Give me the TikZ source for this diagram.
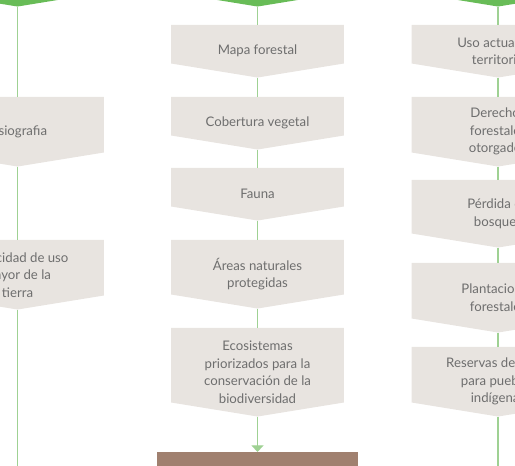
\documentclass[tikz,border=0pt]{standalone}
\usepackage{fontspec}
\setmainfont{Lato}
\usepackage{tikz}
\usetikzlibrary{positioning, arrows.meta, backgrounds}

\definecolor{boxgray}{HTML}{E8E4E0}
\definecolor{textgray}{HTML}{6E6E6E}
\definecolor{linegreen}{HTML}{9FD193}
\definecolor{topgreen}{HTML}{68BC57}
\definecolor{resbrown}{HTML}{A0806F}

\begin{document}
\begin{tikzpicture}[
    x=0.75pt, y=-0.75pt,
    >=stealth,
    item/.style={
        rectangle,
        minimum width=129pt,
        minimum height=#1,
        align=center,
        font=\fontsize{9.9}{13.1}\selectfont,
        text=textgray,
        inner sep=0pt,
        anchor=north
    },
    item/.default=39pt,
    link/.style={
        draw=linegreen,
        line width=1pt
    },
    arr/.style={
        link,
        -{Triangle[length=5pt,width=9pt]}
    }
]
\useasboundingbox (0,0) rectangle (515,466);
\clip (0,0) rectangle (515,466);

% headers (cut at the top)
\node[item=40.5pt] (hleft) at (17.5, -48) {};
\node[item=40.5pt] (hmid) at (257.5, -48) {};
\node[item=40.5pt] (hright) at (498, -48) {};

% left column
\node[item=51.75pt] (fisio) at (17.5, 97) {Fisiografia};
\node[item=51.75pt] (capac) at (17.5, 240) {Capacidad de uso\\mayor de la\\tierra};
\coordinate (lend) at (17.5, 480);

% middle column
\node[item] (mapa) at (257.5, 25) {Mapa forestal};
\node[item] (cober) at (257.5, 97) {Cobertura vegetal};
\node[item] (fauna) at (257.5, 168) {Fauna};
\node[item=51pt] (areas) at (257.5, 240) {Áreas naturales\\protegidas};
\node[item=66pt] (ecos) at (257.5, 328) {Ecosistemas\\priorizados para la\\conservación de la\\biodiversidad};
\node[rectangle, fill=resbrown, minimum width=150.75pt, minimum height=45pt, anchor=north] (result) at (257.5, 452) {};

% right column
\node[item] (uso) at (498, 25) {Uso actual del\\territorio};
\node[item=51.75pt] (derechos) at (498, 97) {Derechos\\forestales\\otorgados};
\node[item=50.25pt] (perdida) at (498, 180) {Pérdida de\\bosques};
\node[item=51.75pt] (plant) at (498, 263) {Plantaciones\\forestales};
\node[item=51.75pt] (reservas) at (498, 347) {Reservas de tierra\\para pueblos\\indígenas};
\coordinate (rend) at (498, 480);

% arrow-shaped fills behind the texts
\begin{scope}[on background layer]
\foreach \n in {fisio, capac, mapa, cober, fauna, areas, ecos, uso, derechos, perdida, plant, reservas}
    \fill[boxgray] (\n.north west) -- (\n.north east) -- ([yshift=10.5pt]\n.south east) -- (\n.south) -- ([yshift=10.5pt]\n.south west) -- cycle;
\foreach \n in {hleft, hmid, hright}
    \fill[topgreen] (\n.north west) -- (\n.north east) -- ([yshift=10.5pt]\n.south east) -- (\n.south) -- ([yshift=10.5pt]\n.south west) -- cycle;
\end{scope}

\draw[link] (hleft) -- (fisio);
\draw[link] (fisio) -- (capac);
\draw[link] (capac) -- (lend);

\draw[link] (hmid) -- (mapa);
\draw[link] (mapa) -- (cober);
\draw[link] (cober) -- (fauna);
\draw[link] (fauna) -- (areas);
\draw[link] (areas) -- (ecos);
\draw[arr] (ecos) -- (result);

\draw[link] (hright) -- (uso);
\draw[link] (uso) -- (derechos);
\draw[link] (derechos) -- (perdida);
\draw[link] (perdida) -- (plant);
\draw[link] (plant) -- (reservas);
\draw[link] (reservas) -- (rend);

\end{tikzpicture}
\end{document}
